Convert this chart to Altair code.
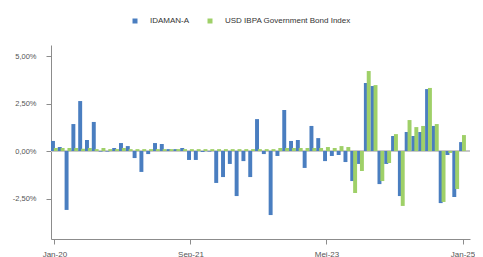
import altair as alt
import pandas as pd

months = [f"{m}-{y}" for y in range(20, 25) for m in
          ["Jan", "Feb", "Mar", "Apr", "Mei", "Jun", "Jul", "Agu", "Sep", "Okt", "Nov", "Des"]] + ["Jan-25"]

idaman = [0.53, 0.21, -3.10, 1.42, 2.63, 0.58, 1.53, -0.03, -0.03, 0.16,
          0.42, 0.26, -0.37, -1.10, -0.16, 0.42, 0.37, 0.10, 0.10, 0.16,
          -0.47, -0.47, -0.05, -0.03, -1.68, -1.37, -0.68, -2.37, -0.53, -1.37,
          1.68, -0.16, -3.37, -0.26, 2.16, 0.53, 0.58, -0.89, 1.32, 0.68,
          -0.53, -0.26, -0.21, -0.58, -1.58, -0.68, 3.58, 3.42, -1.74, -0.68,
          0.79, -2.37, 1.00, 0.79, 1.00, 3.26, 1.32, -2.74, -0.21, -2.42,
          0.47]

ibpa = [0.16, 0.16, 0.16, 0.16, 0.12, 0.16, 0.10, 0.16, 0.10, 0.10,
        0.16, 0.10, 0.10, 0.10, 0.10, 0.10, 0.10, 0.10, 0.10, 0.10,
        0.10, 0.10, 0.10, 0.10, 0.10, 0.10, 0.10, 0.10, 0.10, 0.10,
        0.10, 0.10, 0.10, 0.16, 0.16, 0.16, 0.16, 0.16, 0.16, 0.16,
        0.21, 0.16, 0.26, 0.21, -2.21, -1.05, 4.21, 3.47, -1.58, -0.63,
        0.89, -2.89, 1.63, 1.26, 1.32, 3.32, 1.42, -2.68, -0.10, -2.00,
        0.84]

series_names = ["IDAMAN-A", "USD IBPA Government Bond Index"]
series_colors = ["#4A7EC0", "#9FD068"]

tick_positions = [0, 20, 40, 60]
tick_labels = ["Jan-20", "Sep-21", "Mei-23", "Jan-25"]

y_ticks = [5.0, 2.5, 0.0, -2.5]

rows = []
for s, vals in zip(series_names, [idaman, ibpa]):
    for i, (m, v) in enumerate(zip(months, vals)):
        rows.append({"month": m, "i": i, "series": s, "value": v})
df = pd.DataFrame(rows)

label_expr = " : ".join(
    f"datum.value == {p} ? '{l}'" for p, l in zip(tick_positions, tick_labels)
) + " : ''"

y_label_expr = ("(datum.value < 0 ? '-' : '') + "
                "replace(format(abs(datum.value), '.2f'), '.', ',') + '%'")

FONT = "Liberation Sans"

xscale = alt.Scale(domain=[-0.5, 61.1], nice=False, zero=False)
yscale = alt.Scale(domain=[-4.63, 5.58], nice=False, zero=False)

y_axis = alt.Axis(values=y_ticks, labelExpr=y_label_expr, title=None,
                  grid=False, domainColor="#8C8C8C", tickColor="#8C8C8C",
                  tickSize=5, labelPadding=10, labelFontSize=7.5,
                  labelColor="#555555", labelFont=FONT)

zero = alt.Chart(pd.DataFrame({"y": [0.0]})).mark_rule(
    color="#C8C8C8", strokeWidth=2
).encode(y=alt.Y("y:Q", scale=yscale, axis=y_axis))

bars = alt.Chart(df).transform_calculate(
    x0=f"datum.series == '{series_names[0]}' ? datum.i - 0.5 : datum.i - 0.08",
    x1=f"datum.series == '{series_names[0]}' ? datum.i + 0.08 : datum.i + 0.5",
).mark_bar().encode(
    x=alt.X("x0:Q", scale=xscale,
            axis=alt.Axis(values=tick_positions, labelExpr=label_expr, title=None,
                          grid=False, domainColor="#8C8C8C", tickColor="#8C8C8C",
                          tickSize=5, labelPadding=6, labelFontSize=8,
                          labelColor="#555555", labelFont=FONT, labelFlush=False)),
    x2="x1:Q",
    y=alt.Y("value:Q", scale=yscale, axis=y_axis),
    y2=alt.datum(0),
    color=alt.Color("series:N",
                    scale=alt.Scale(domain=series_names, range=series_colors),
                    legend=alt.Legend(title=None, orient="none", direction="horizontal",
                                      legendX=80, legendY=-28, symbolType="square",
                                      symbolSize=25, symbolStrokeWidth=0,
                                      labelFontSize=8, labelFont=FONT,
                                      labelColor="#333333", labelOffset=11,
                                      columnPadding=16)),
    order=alt.Order("i:Q"),
)

chart = alt.layer(zero, bars).properties(
    width=419, height=194,
    autosize=alt.AutoSizeParams(type="none"),
    padding={"left": 43, "top": 37, "right": 5, "bottom": 20},
).configure_view(stroke=None)

chart.save("out.html", embed_options={"renderer": "svg", "actions": False})
